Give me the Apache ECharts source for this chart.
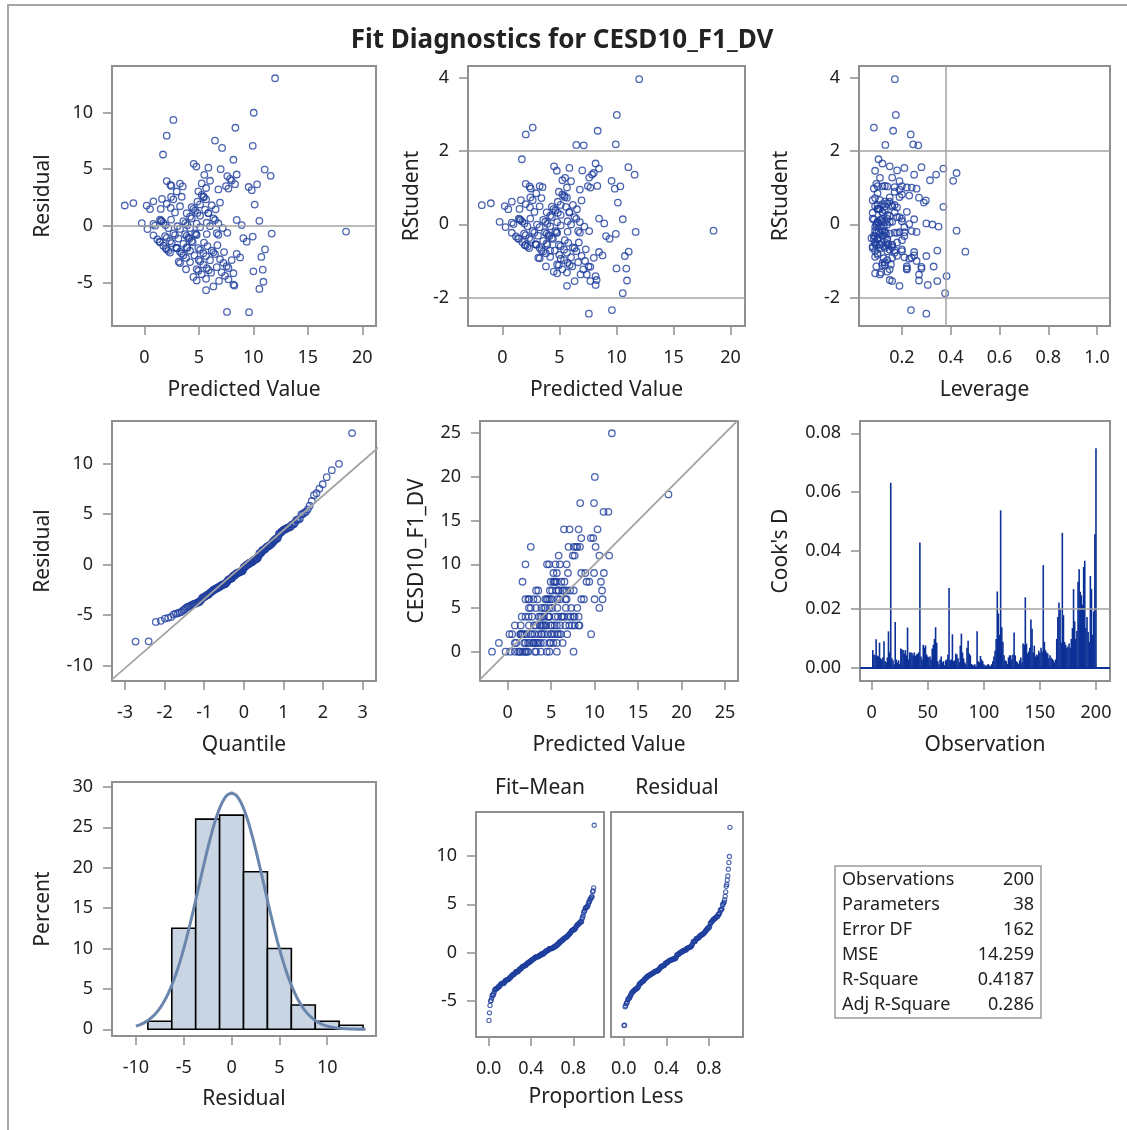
<!DOCTYPE html>
<html>
<head>
<meta charset="utf-8">
<script src="https://cdn.jsdelivr.net/npm/echarts@6.0.0/dist/echarts.min.js"></script>
<style>
  html, body { margin: 0; padding: 0; background: #fff; }
  #main { width: 1127px; height: 1130px; }
</style>
</head>
<body>
<div id="main"></div>
<script>
// ---- data ----
const predicted = [
  11.99,10.03,2.66,2.05,8.35,6.48,7.13,9.94,1.71,8.17,
  4.53,4.77,5.87,7.00,11.04,11.59,5.50,8.47,7.86,7.61,
  8.01,8.32,7.49,7.71,2.05,2.39,3.27,3.52,2.48,6.02,
  5.26,5.66,9.57,9.85,10.34,3.43,2.45,2.66,1.62,0.83,
  0.52,0.21,-1.01,-1.80,2.05,2.42,1.50,5.26,5.41,4.86,
  5.66,6.18,6.54,6.94,4.65,4.86,5.57,5.87,5.11,6.33,
  10.12,10.55,8.47,8.93,-0.24,0.28,0.83,1.44,1.59,1.93,
  2.20,3.03,3.76,3.94,4.34,4.80,5.72,6.02,6.79,7.19,
  7.61,6.79,3.27,9.94,11.68,18.50,1.19,1.38,2.05,2.35,
  2.81,3.12,3.88,4.19,4.74,3.58,4.04,4.34,2.05,1.96,
  2.35,2.97,3.27,3.43,3.88,4.13,4.43,4.95,5.47,5.78,
  6.70,3.27,3.15,3.82,3.82,4.50,4.80,5.66,5.11,5.41,
  5.66,6.02,6.48,7.25,7.55,7.71,8.17,8.17,8.26,6.85,
  6.33,5.66,5.90,5.72,6.12,5.41,4.80,4.98,8.47,7.71,
  11.07,10.73,10.86,10.00,10.92,10.55,7.58,9.60,1.74,1.53,
  2.45,2.66,1.90,2.20,2.97,3.58,3.94,4.59,5.11,4.80,
  3.73,4.65,5.11,4.19,4.50,3.88,5.87,6.48,5.11,5.47,
  6.18,6.33,6.94,7.09,6.64,5.26,4.95,4.19,2.91,2.51,
  1.44,0.83,8.01,7.31,7.40,8.78,3.58,2.81,3.27,4.34,
  2.97,4.95,6.79,9.08,9.39,0.98,1.74,5.72,6.64,4.19
];
const observed = [
  25,20,12,10,17,14,14,17,8,14,
  10,10,11,12,16,16,10,13,12,12,
  12,12,11,11,6,6,7,7,6,10,
  9,9,13,13,14,6,5,5,4,3,
  2,2,1,0,4,4,3,8,8,7,
  8,8,8,9,6,6,7,7,6,7,
  12,11,9,9,0,0,1,2,2,2,
  2,3,4,4,5,5,6,6,7,7,
  7,6,3,9,11,18,0,0,1,1,
  2,2,3,4,4,2,3,3,0,0,
  0,1,1,1,2,3,3,3,4,4,
  5,0,0,1,0,0,0,1,2,3,
  3,3,4,4,4,4,4,3,3,2,
  1,0,2,2,2,2,1,2,6,3,
  9,8,7,6,6,5,0,2,2,2,
  3,2,1,0,1,1,2,2,3,4,
  3,4,5,5,6,5,7,7,7,8,
  4,4,4,3,3,1,1,1,1,1,
  0,0,5,5,3,6,4,4,5,6,
  6,8,10,8,8,1,0,5,6,2
];
const leverage = [
  .171,.175,.085,.236,.164,.132,.267,.246,.104,.12,
  .15,.09,.21,.18,.28,.25,.11,.37,.34,.16,
  .424,.13,.2,.24,.095,.14,.1,.17,.085,.19,
  .315,.22,.41,.26,.12,.09,.15,.11,.08,.13,
  .1,.09,.14,.16,.12,.18,.1,.2,.23,.15,
  .27,.17,.11,.298,.13,.08,.37,.22,.14,.19,
  .29,.25,.2,.3,.12,.09,.1,.08,.115,.095,
  .125,.14,.16,.105,.18,.13,.2,.325,.15,.35,
  .24,.17,.21,.11,.26,.424,.09,.075,.12,.1,
  .13,.085,.15,.11,.19,.14,.12,.105,.095,.16,
  .08,.11,.13,.17,.09,.12,.1,.145,.2,.135,
  .18,.125,.16,.1,.22,.14,.09,.115,.23,.15,
  .17,.21,.2,.26,.33,.28,.383,.306,.15,.11,
  .16,.19,.13,.12,.095,.14,.155,.1,.25,.345,
  .46,.3,.28,.22,.27,.377,.30,.237,.1,.085,
  .12,.09,.135,.08,.11,.14,.16,.09,.125,.18,
  .21,.13,.095,.15,.105,.17,.12,.14,.1,.19,
  .16,.11,.18,.22,.13,.15,.12,.09,.14,.1,
  .085,.095,.24,.2,.27,.25,.11,.12,.13,.16,
  .1,.17,.19,.21,.14,.23,.09,.105,.12,.345
];
// Cook's D by observation number 1..200
const cooksD = [
  0.006,0.0045,0.0042,0.0097,0.0041,0.0038,0.0085,0.0032,0.0028,0.0035,
  0.009,0.0022,0.0018,0.0035,0.0124,0.0052,0.0631,0.0032,0.0025,0.0012,
  0.0156,0.0028,0.0018,0.0025,0.0012,0.0065,0.0062,0.006,0.0048,0.006,
  0.0042,0.0137,0.0028,0.0052,0.0052,0.005,0.0042,0.0052,0.004,0.0045,
  0.0048,0.0052,0.0427,0.0038,0.0028,0.0078,0.0068,0.0076,0.0045,0.0038,
  0.0035,0.0038,0.0028,0.0065,0.0078,0.0098,0.0138,0.0085,0.0022,0.0012,
  0.0028,0.0038,0.0018,0.0022,0.0008,0.0025,0.0028,0.0045,0.0272,0.0025,
  0.0028,0.0114,0.0022,0.0025,0.0048,0.0045,0.0032,0.0018,0.0075,0.0116,
  0.0052,0.0032,0.0018,0.0012,0.0068,0.0092,0.0048,0.0042,0.0012,0.001,
  0.0008,0.0012,0.0005,0.0124,0.0022,0.0018,0.004,0.0028,0.0022,0.0012,
  0.0008,0.0006,0.001,0.0012,0.0008,0.0005,0.0012,0.0022,0.0038,0.0058,
  0.0098,0.026,0.0185,0.0112,0.0537,0.0138,0.0088,0.0042,0.0025,0.0022,
  0.0012,0.0035,0.0042,0.0042,0.0028,0.0045,0.012,0.0042,0.0022,0.0018,
  0.0012,0.0025,0.0035,0.0018,0.0082,0.0078,0.024,0.0082,0.0048,0.0055,
  0.0068,0.0164,0.0133,0.0052,0.0075,0.0038,0.0045,0.0042,0.0058,0.005,
  0.0068,0.0055,0.035,0.0088,0.006,0.0052,0.0048,0.0032,0.0042,0.0035,
  0.003,0.0025,0.0018,0.0028,0.0098,0.0173,0.0222,0.0202,0.0085,0.046,
  0.0179,0.0088,0.0078,0.0068,0.0072,0.0082,0.0068,0.0098,0.0135,0.0268,
  0.0158,0.0098,0.0125,0.0293,0.0336,0.0259,0.0247,0.0215,0.0344,0.0365,
  0.0135,0.0173,0.0122,0.0088,0.0313,0.0268,0.0112,0.0192,0.0455,0.0749
];
const histEdges = [-8.75, -6.25, -3.75, -1.25, 1.25, 3.75, 6.25, 8.75, 11.25, 13.75];
const histPercent = [1, 12.5, 26, 26.5, 19.5, 10, 3, 1, 0.5];
const normalMu = 0;
const normalSigma = 3.41;
const MSE = 14.259;
const errorDF = 162;
const cooksCutoff = 0.02;     // 4/n
const leverageCutoff = 0.38;  // 2p/n

const predTicks = [0, 5, 10, 15, 20];
const rstudTicks = [-2, 0, 2, 4];
const levTicks = [0.2, 0.4, 0.6, 0.8, 1.0];
const residTicks1 = [-5, 0, 5, 10];
const quantTicks = [-3, -2, -1, 0, 1, 2, 3];
const residTicks4 = [-10, -5, 0, 5, 10];
const obsTicks = [0, 5, 10, 15, 20, 25];
const obsNumTicks = [0, 50, 100, 150, 200];
const cookTicks = [0, 0.02, 0.04, 0.06, 0.08];
const histXTicks = [-10, -5, 0, 5, 10];
const pctTicks = [0, 5, 10, 15, 20, 25, 30];
const propTicks = [0, 0.4, 0.8];

const statLabels = ['Observations', 'Parameters', 'Error DF', 'MSE', 'R-Square', 'Adj R-Square'];
const statValues = ['200', '38', '162', '14.259', '0.4187', '0.286'];

// ---- derived diagnostics ----
const n = predicted.length;
const residual = observed.map((o, i) => o - predicted[i]);
const rstudent = residual.map((e, i) => {
  const h = leverage[i];
  const s2i = (errorDF * MSE - e * e / (1 - h)) / (errorDF - 1);
  return e / Math.sqrt(s2i * (1 - h));
});

function qnorm(p) {
  const a = [-39.69683028665376, 220.9460984245205, -275.9285104469687, 138.3577518672690, -30.66479806614716, 2.506628277459239];
  const b = [-54.47609879822406, 161.5858368580409, -155.6989798598866, 66.80131188771972, -13.28068155288572];
  const c = [-0.007784894002430293, -0.3223964580411365, -2.400758277161838, -2.549732539343734, 4.374664141464968, 2.938163982698783];
  const d = [0.007784695709041462, 0.3224671290700398, 2.445134137142996, 3.754408661907416];
  const pl = 0.02425;
  let q, r;
  if (p < pl) {
    q = Math.sqrt(-2 * Math.log(p));
    return (((((c[0]*q+c[1])*q+c[2])*q+c[3])*q+c[4])*q+c[5]) / ((((d[0]*q+d[1])*q+d[2])*q+d[3])*q+1);
  }
  if (p > 1 - pl) {
    q = Math.sqrt(-2 * Math.log(1 - p));
    return -(((((c[0]*q+c[1])*q+c[2])*q+c[3])*q+c[4])*q+c[5]) / ((((d[0]*q+d[1])*q+d[2])*q+d[3])*q+1);
  }
  q = p - 0.5; r = q * q;
  return (((((a[0]*r+a[1])*r+a[2])*r+a[3])*r+a[4])*r+a[5])*q / (((((b[0]*r+b[1])*r+b[2])*r+b[3])*r+b[4])*r+1);
}

const sortedResid = residual.slice().sort((x, y) => x - y);
const qqData = sortedResid.map((e, i) => [qnorm((i + 1 - 0.375) / (n + 0.25)), e]);
const meanPred = predicted.reduce((s, v) => s + v, 0) / n;
const fitMinusMean = predicted.map(p => p - meanPred).sort((x, y) => x - y);
const rfFit = fitMinusMean.map((v, i) => [(i + 0.5) / n, v]);
const rfRes = sortedResid.map((v, i) => [(i + 0.5) / n, v]);

const binWidth = histEdges[1] - histEdges[0];
const histData = histPercent.map((p, i) => [histEdges[i], histEdges[i + 1], p]);
const normalCurve = [];
for (let x = -10; x <= 14.001; x += 0.2) {
  const z = (x - normalMu) / normalSigma;
  normalCurve.push([x, 100 * binWidth * Math.exp(-0.5 * z * z) / (normalSigma * Math.sqrt(2 * Math.PI))]);
}

// ---- styling ----
const FONT = '"Noto Sans", "DejaVu Sans", sans-serif';
const TXT = '#222';
const FRAME = '#8f8f8f';
const REF = '#a3a3a3';
const MARK = '#1f3f9e';

const grids = [
  { left: 112, top: 66, width: 264, height: 260 },
  { left: 468, top: 66, width: 277, height: 260 },
  { left: 859, top: 66, width: 251, height: 260 },
  { left: 112, top: 421, width: 264, height: 260 },
  { left: 480, top: 421, width: 258, height: 260 },
  { left: 860, top: 421, width: 250, height: 260 },
  { left: 112, top: 782, width: 264, height: 254 },
  { left: 476, top: 812, width: 128, height: 225 },
  { left: 611, top: 812, width: 132, height: 225 }
];

function axis(gi, min, max, ticks, name, gap, fmt, showLabels, labelMargin) {
  return {
    type: 'value', gridIndex: gi, min: min, max: max,
    axisLine: { show: true, onZero: false, lineStyle: { color: FRAME, width: 2 } },
    splitLine: { show: false },
    axisTick: { show: showLabels !== false, customValues: ticks, length: 9, lineStyle: { color: FRAME, width: 1.5 } },
    axisLabel: {
      show: showLabels !== false, customValues: ticks, margin: labelMargin || 19,
      color: TXT, fontSize: 18, fontFamily: FONT,
      formatter: fmt || (v => String(v))
    },
    name: name || '', nameLocation: 'middle', nameGap: gap || 0,
    nameTextStyle: { color: TXT, fontSize: 21, fontFamily: FONT }
  };
}
const f1 = v => v.toFixed(1);
const f2 = v => v.toFixed(2);
const XM = 23;

const xAxes = [
  axis(0, -2.97, 21.25, predTicks, 'Predicted Value', 54, null, true, XM),
  axis(1, -3.01, 21.26, predTicks, 'Predicted Value', 54, null, true, XM),
  axis(2, 0.024, 1.053, levTicks, 'Leverage', 54, f1, true, XM),
  axis(3, -3.33, 3.34, quantTicks, 'Quantile', 54, null, true, XM),
  axis(4, -3.18, 26.5, obsTicks, 'Predicted Value', 54, null, true, XM),
  axis(5, -10.4, 212.5, obsNumTicks, 'Observation', 54, null, true, XM),
  axis(6, -12.5, 15.1, histXTicks, 'Residual', 53, null, true, XM),
  axis(7, -0.12, 1.09, propTicks, '', 0, f1, true, XM),
  axis(8, -0.12, 1.12, propTicks, '', 0, f1, true, XM)
];
const yAxes = [
  axis(0, -8.82, 14.09, residTicks1, 'Residual', 58),
  axis(1, -2.77, 4.31, rstudTicks, 'RStudent', 45),
  axis(2, -2.77, 4.31, rstudTicks, 'RStudent', 67),
  axis(3, -11.5, 14.2, residTicks4, 'Residual', 58),
  axis(4, -3.36, 26.4, obsTicks, 'CESD10_F1_DV', 52),
  axis(5, -0.00456, 0.0842, cookTicks, "Cook's D", 68, f2),
  axis(6, -0.83, 30.6, pctTicks, 'Percent', 58),
  axis(7, -8.8, 14.6, residTicks1, '', 0),
  axis(8, -8.8, 14.6, residTicks1, '', 0, null, false)
];

function refLines(data, color, width) {
  return {
    silent: true, symbol: 'none', label: { show: false },
    lineStyle: { color: color || REF, width: width || 1.5, type: 'solid' },
    emphasis: { disabled: true },
    data: data
  };
}
function scatter(gi, data, size, extra) {
  return Object.assign({
    type: 'scatter', xAxisIndex: gi, yAxisIndex: gi, data: data,
    symbol: 'circle', symbolSize: size || 6.5, silent: true,
    itemStyle: { color: 'rgba(0,0,0,0)', borderColor: MARK, borderWidth: 1.3 }
  }, extra || {});
}
function refSeg(gi, pts) {
  return {
    type: 'line', xAxisIndex: gi, yAxisIndex: gi, data: pts, silent: true,
    showSymbol: false, symbol: 'none', clip: true,
    lineStyle: { color: REF, width: 1.8 }
  };
}

const series = [
  scatter(0, predicted.map((p, i) => [p, residual[i]]), 6.5, { markLine: refLines([{ yAxis: 0 }]) }),
  scatter(1, predicted.map((p, i) => [p, rstudent[i]]), 6.5, { markLine: refLines([{ yAxis: -2 }, { yAxis: 2 }]) }),
  scatter(2, leverage.map((h, i) => [h, rstudent[i]]), 6.5, { markLine: refLines([{ yAxis: -2 }, { yAxis: 2 }, { xAxis: leverageCutoff }]) }),
  refSeg(3, [[-3.6, normalMu - 3.6 * normalSigma], [3.6, normalMu + 3.6 * normalSigma]]),
  scatter(3, qqData, 6.5),
  refSeg(4, [[-4, -4], [28, 28]]),
  scatter(4, predicted.map((p, i) => [p, observed[i]]), 6.5),
  {
    type: 'bar', xAxisIndex: 5, yAxisIndex: 5, silent: true,
    data: cooksD.map((v, i) => [i + 1, v]),
    barWidth: 1.6, barGap: '-100%',
    itemStyle: { color: '#0b3097' },
    markLine: refLines([{ yAxis: cooksCutoff }])
  },
  {
    type: 'line', xAxisIndex: 5, yAxisIndex: 5, silent: true, data: [],
    markLine: refLines([{ yAxis: 0 }], '#0b3097', 2)
  },
  {
    type: 'custom', xAxisIndex: 6, yAxisIndex: 6, silent: true,
    data: histData,
    encode: { x: [0, 1], y: 2 },
    renderItem: function (params, api) {
      const p0 = api.coord([api.value(0), api.value(2)]);
      const p1 = api.coord([api.value(1), 0]);
      return {
        type: 'rect',
        shape: { x: p0[0], y: p0[1], width: p1[0] - p0[0], height: p1[1] - p0[1] },
        style: { fill: '#c9d5e3', stroke: '#000', lineWidth: 1.6 }
      };
    }
  },
  {
    type: 'line', xAxisIndex: 6, yAxisIndex: 6, silent: true, data: normalCurve,
    showSymbol: false, symbol: 'none', smooth: false,
    lineStyle: { color: '#6b86ad', width: 3 }
  },
  scatter(7, rfFit, 4.2, { itemStyle: { color: 'rgba(0,0,0,0)', borderColor: MARK, borderWidth: 1.1 } }),
  scatter(8, rfRes, 4.2, { itemStyle: { color: 'rgba(0,0,0,0)', borderColor: MARK, borderWidth: 1.1 } })
];

function gText(x, y, text, size, align, weight) {
  return {
    type: 'text', x: x, y: y, silent: true, z: 10,
    style: {
      text: text, fill: TXT,
      font: (weight || 'normal') + ' ' + size + 'px ' + FONT,
      textAlign: align, align: align,
      textVerticalAlign: 'middle', verticalAlign: 'middle'
    }
  };
}

const graphics = [
  { type: 'rect', silent: true, z: -10, shape: { x: 8, y: 5, width: 1200, height: 1200 },
    style: { fill: 'none', stroke: '#a6a6a6', lineWidth: 2 } },
  gText(562, 41, 'Fit Diagnostics for CESD10_F1_DV', 26, 'center', 'bold'),
  gText(540, 788, 'Fit\u2013Mean', 21, 'center'),
  gText(677, 788, 'Residual', 21, 'center'),
  gText(606, 1097, 'Proportion Less', 21, 'center'),
  { type: 'rect', silent: true, z: 5, shape: { x: 835, y: 866, width: 206, height: 152 },
    style: { fill: '#fff', stroke: '#9a9a9a', lineWidth: 1.5 } }
];
statLabels.forEach((lab, i) => {
  graphics.push(gText(842, 880 + i * 25, lab, 18, 'left'));
  graphics.push(gText(1034, 880 + i * 25, statValues[i], 18, 'right'));
});

const chart = echarts.init(document.getElementById('main'), null, { renderer: 'canvas' });
chart.setOption({
  animation: false,
  backgroundColor: '#fff',
  textStyle: { fontFamily: FONT },
  grid: grids.map(g => Object.assign({ show: true, borderColor: FRAME, borderWidth: 2, outerBoundsMode: 'none', containLabel: false }, g)),
  xAxis: xAxes,
  yAxis: yAxes,
  series: series,
  graphic: graphics
});
</script>
</body>
</html>
